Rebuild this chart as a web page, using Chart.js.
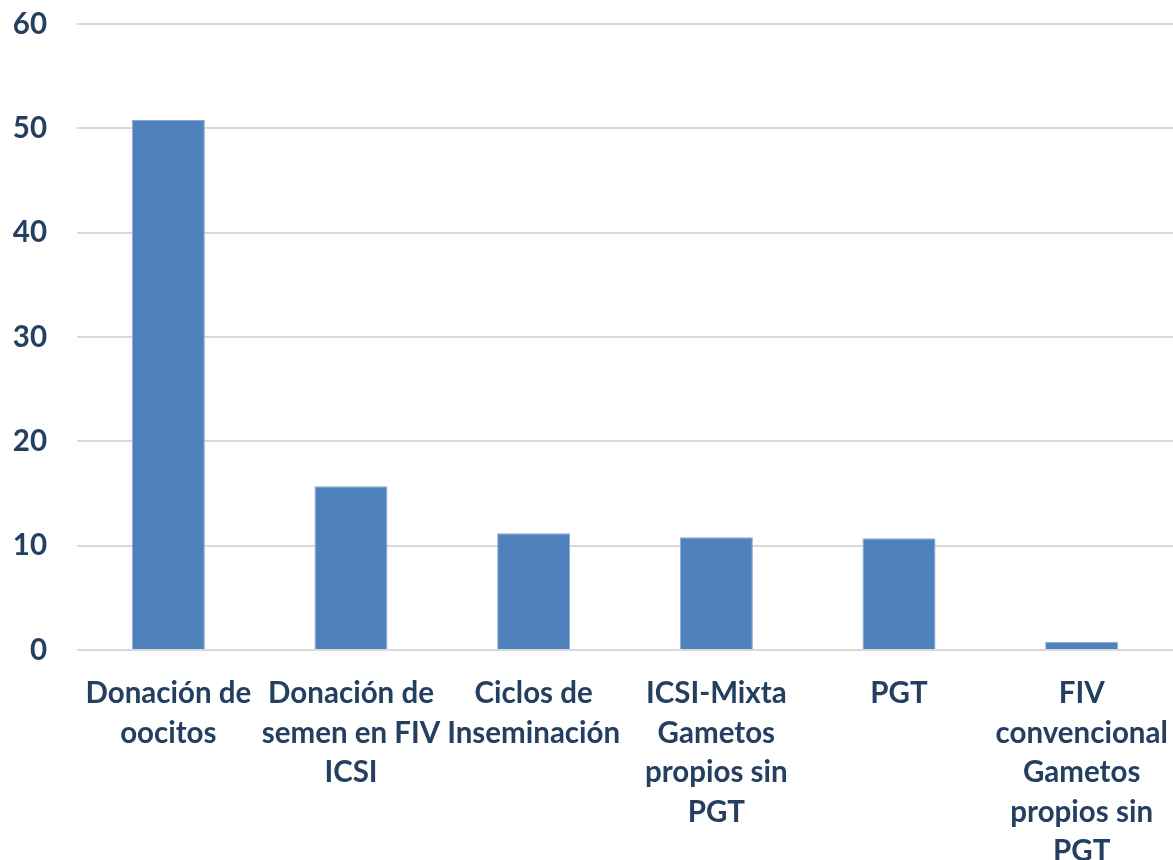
<!DOCTYPE html>
<html lang="es">
<head>
    <meta charset="UTF-8">
    <title>Chart</title>
    <style>
        html, body {
            margin: 0;
            padding: 0;
            background: #fff;
        }
        .chart-box {
            width: 1173px;
            height: 860px;
        }
    </style>
</head>
<body>
<div class="chart-box">
    <canvas id="barChart"></canvas>
</div>

<script src="https://cdn.jsdelivr.net/npm/chart.js"></script>
<script>
    const categories = [
        ['Donación de', 'oocitos'],
        ['Donación de', 'semen en FIV', 'ICSI'],
        ['Ciclos de', 'Inseminación'],
        ['ICSI-Mixta', 'Gametos', 'propios sin', 'PGT'],
        ['PGT'],
        ['FIV', 'convencional', 'Gametos', 'propios sin', 'PGT']
    ];
    const values = [50.8, 15.7, 11.2, 10.8, 10.7, 0.8];
    const yTicks = [0, 10, 20, 30, 40, 50, 60];

    const textColor = '#243F60';
    const labelFont = { family: 'Lato', size: 29.5, weight: 'bold', lineHeight: 1.34 };

    const ctx = document.getElementById('barChart').getContext('2d');
    new Chart(ctx, {
        type: 'bar',
        data: {
            labels: categories,
            datasets: [{
                data: values,
                backgroundColor: '#4F81BD',
                borderColor: '#8EAAD6',
                borderWidth: 1,
                barPercentage: 0.4,
                categoryPercentage: 1.0
            }]
        },
        options: {
            responsive: true,
            maintainAspectRatio: false,
            animation: false,
            layout: {
                padding: { top: 24, right: 0, left: 0, bottom: 0 }
            },
            plugins: {
                legend: { display: false },
                tooltip: { enabled: false }
            },
            scales: {
                x: {
                    grid: { display: false },
                    border: { display: false },
                    ticks: {
                        color: textColor,
                        font: labelFont,
                        autoSkip: false,
                        maxRotation: 0,
                        minRotation: 0,
                        padding: 16
                    },
                    afterFit: function (scale) {
                        scale.height = 210;
                        scale.paddingLeft = 0;
                        scale.paddingRight = 0;
                    }
                },
                y: {
                    min: 0,
                    max: yTicks[yTicks.length - 1],
                    afterBuildTicks: function (scale) {
                        scale.ticks = yTicks.map(v => ({ value: v }));
                    },
                    grid: {
                        color: '#D9D9D9',
                        lineWidth: 2,
                        drawTicks: false
                    },
                    border: { display: false },
                    ticks: {
                        color: textColor,
                        font: { family: 'Lato', size: 29.5, weight: 'bold' },
                        padding: 30
                    },
                    afterFit: function (scale) {
                        scale.width = 77;
                        scale.paddingTop = 0;
                        scale.paddingBottom = 0;
                    }
                }
            }
        }
    });
</script>
</body>
</html>
